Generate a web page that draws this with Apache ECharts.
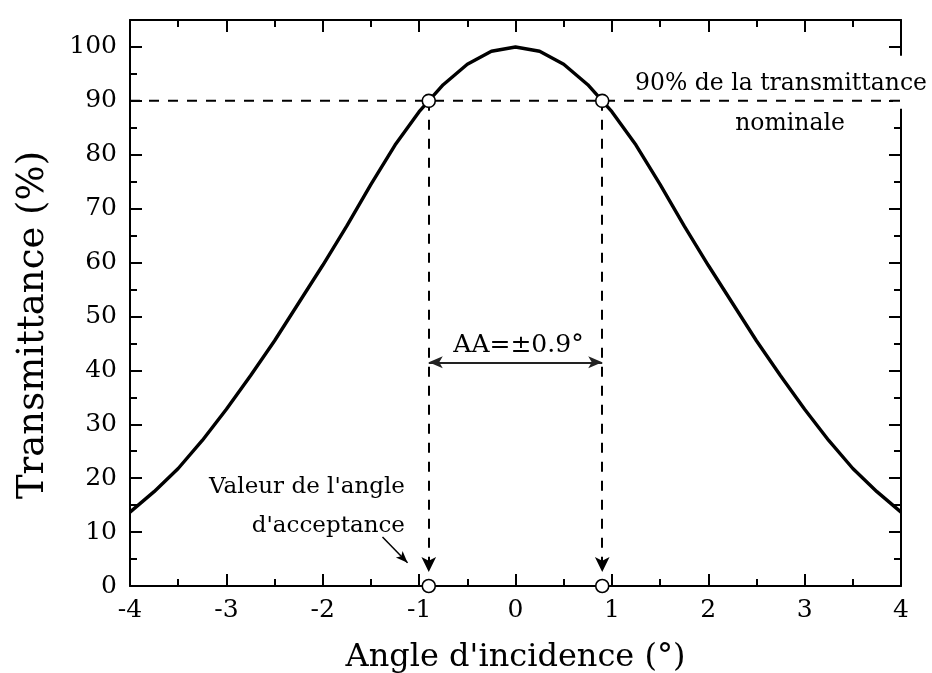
<!DOCTYPE html>
<html>
<head>
<meta charset="utf-8">
<script src="https://cdn.jsdelivr.net/npm/echarts@6/dist/echarts.min.js"></script>
<style>
html,body{margin:0;padding:0;background:#fff;}
#chart{width:932px;height:673px;}
</style>
</head>
<body>
<div id="chart"></div>
<script>
// ---- data ----
var angles = [-4, -3.75, -3.5, -3.25, -3, -2.75, -2.5, -2.25, -2, -1.75, -1.5, -1.25, -1, -0.75, -0.5, -0.25, 0,
              0.25, 0.5, 0.75, 1, 1.25, 1.5, 1.75, 2, 2.25, 2.5, 2.75, 3, 3.25, 3.5, 3.75, 4];
var transmittance = [13.7, 17.5, 21.8, 27.0, 32.8, 39.0, 45.5, 52.5, 59.5, 66.8, 74.5, 81.8, 88.0, 93.0, 96.8, 99.2, 100,
                     99.2, 96.8, 93.0, 88.0, 81.8, 74.5, 66.8, 59.5, 52.5, 45.5, 39.0, 32.8, 27.0, 21.8, 17.5, 13.7];
var thresholdLevel = 90;            // 90% of nominal transmittance
var acceptanceAngles = [-0.9, 0.9]; // AA = ±0.9°
var arrowTipLevel = 2.6;            // where the vertical arrows stop
var spanArrowLevel = 41.5;          // level of the double arrow
var noteArrow = [[-1.38, 9.1], [-1.12, 4.3]];
var xTicks = [-4, -3, -2, -1, 0, 1, 2, 3, 4];
var yTicks = [0, 10, 20, 30, 40, 50, 60, 70, 80, 90, 100];
var texts = {
  xTitle: "Angle d'incidence (°)",
  yTitle: "Transmittance (%)",
  threshold1: "90% de la transmittance",
  threshold2: "nominale",
  aa: "AA=±0.9°",
  note1: "Valeur de l'angle",
  note2: "d'acceptance"
};

var FONT = 'DejaVu Serif';
var chart = echarts.init(document.getElementById('chart'), null, {renderer: 'canvas'});

var curve = angles.map(function (a, i) { return [a, transmittance[i]]; });
var circles = [];
acceptanceAngles.forEach(function (a) { circles.push([a, 0]); circles.push([a, thresholdLevel]); });

function majorX(pos, labels) {
  return {
    type: 'value', position: pos, min: xTicks[0], max: xTicks[xTicks.length - 1], interval: 1,
    axisLine: {show: true, onZero: false, lineStyle: {color: '#000', width: 2}},
    axisTick: {show: true, inside: true, length: 12, lineStyle: {color: '#000', width: 2}},
    minorTick: {show: true, splitNumber: 2, length: 7, lineStyle: {color: '#000', width: 2}},
    splitLine: {show: false}, minorSplitLine: {show: false},
    axisLabel: {show: labels, color: '#000', fontFamily: FONT, fontSize: 25, margin: 12},
    name: labels ? texts.xTitle : '', nameLocation: 'middle', nameGap: 56,
    nameTextStyle: {color: '#000', fontFamily: FONT, fontSize: 32}
  };
}
function yAx(pos, interval, len, showLine, labels) {
  return {
    type: 'value', position: pos, min: 0, max: 105, interval: interval,
    axisLine: {show: showLine, onZero: false, lineStyle: {color: '#000', width: 2}},
    axisTick: {show: true, inside: true, length: len, lineStyle: {color: '#000', width: 2}},
    splitLine: {show: false},
    axisLabel: {show: labels, color: '#000', fontFamily: FONT, fontSize: 25, margin: 13, showMaxLabel: false,
      formatter: function (v) { return yTicks.indexOf(v) >= 0 ? String(v) : ''; }}
  };
}

var dashStyle = {color: '#000', width: 2, type: [10, 9]};

chart.setOption({
  animation: false,
  backgroundColor: '#fff',
  grid: {left: 130, right: 31, top: 20, bottom: 87, containLabel: false, outerBoundsMode: 'none'},
  xAxis: [majorX('bottom', true), majorX('top', false)],
  yAxis: [yAx('left', 10, 12, true, true), yAx('left', 5, 7, false, false),
          yAx('right', 10, 12, true, false), yAx('right', 5, 7, false, false)],
  series: [
    {
      type: 'line', data: curve, xAxisIndex: 0, yAxisIndex: 0, symbol: 'none', z: 5,
      lineStyle: {color: '#000', width: 3.4}
    },
    {
      type: 'line', xAxisIndex: 0, yAxisIndex: 0, symbol: 'none', z: 4,
      data: [[xTicks[0], thresholdLevel], [xTicks[xTicks.length - 1], thresholdLevel]],
      lineStyle: dashStyle,
      markLine: {
        silent: true, symbol: ['none', 'arrow'], symbolSize: [11, 15],
        label: {show: false},
        lineStyle: dashStyle,
        data: acceptanceAngles.map(function (a) {
          return [{coord: [a, thresholdLevel]}, {coord: [a, arrowTipLevel]}];
        })
      }
    },
    {
      type: 'line', xAxisIndex: 0, yAxisIndex: 0, symbol: 'none', data: [], z: 4,
      markLine: {
        silent: true, symbol: ['arrow', 'arrow'], symbolSize: [9, 14],
        label: {show: false},
        lineStyle: {color: '#222', width: 2, type: 'solid'},
        data: [[{coord: [acceptanceAngles[0], spanArrowLevel]}, {coord: [acceptanceAngles[1], spanArrowLevel]}]]
      }
    },
    {
      type: 'line', xAxisIndex: 0, yAxisIndex: 0, symbol: 'none', data: [], z: 4,
      markLine: {
        silent: true, symbol: ['none', 'arrow'], symbolSize: [7, 12],
        label: {show: false},
        lineStyle: {color: '#000', width: 1.5, type: 'solid'},
        data: [[{coord: noteArrow[0]}, {coord: noteArrow[1]}]]
      }
    },
    {
      type: 'scatter', data: circles, xAxisIndex: 0, yAxisIndex: 0, symbol: 'circle', symbolSize: 13,
      clip: false, z: 10,
      itemStyle: {color: '#fff', borderColor: '#000', borderWidth: 1.6, opacity: 1}
    }
  ]
});

function px(pt) { return chart.convertToPixel({xAxisIndex: 0, yAxisIndex: 0}, pt); }
var pAA = px([0, 45]);
var pNote = px([-0.95, 0]);
var pThr = px([xTicks[xTicks.length - 1], thresholdLevel]);
var pMid = px([0, 52.5]);
var tStyle = {fill: '#000', fontFamily: FONT};

chart.setOption({
  graphic: [
    {type: 'rect', z: 1, shape: {x: pThr[0] - 8, y: pThr[1] - 45, width: 18, height: 53}, style: {fill: '#fff'}},
    {type: 'text', z: 1, x: pThr[0] - 120, y: pThr[1] - 17,
      style: Object.assign({text: texts.threshold1, fontSize: 23.5, align: 'center', verticalAlign: 'middle'}, tStyle)},
    {type: 'text', z: 1, x: pThr[0] - 111, y: pThr[1] + 23,
      style: Object.assign({text: texts.threshold2, fontSize: 23.5, align: 'center', verticalAlign: 'middle'}, tStyle)},
    {type: 'text', z: 6, x: pAA[0] + 3, y: pAA[1] + 2,
      style: Object.assign({text: texts.aa, fontSize: 25, align: 'center', verticalAlign: 'middle'}, tStyle)},
    {type: 'text', z: 6, x: pNote[0] - 19, y: pNote[1] - 99,
      style: Object.assign({text: texts.note1, fontSize: 23, align: 'right', verticalAlign: 'middle'}, tStyle)},
    {type: 'text', z: 6, x: pNote[0] - 19, y: pNote[1] - 60,
      style: Object.assign({text: texts.note2, fontSize: 23, align: 'right', verticalAlign: 'middle'}, tStyle)},
    {type: 'text', z: 6, x: 33, y: pMid[1] + 22, rotation: Math.PI / 2,
      style: Object.assign({text: texts.yTitle, fontSize: 37, align: 'center', verticalAlign: 'middle'}, tStyle)}
  ]
});
</script>
</body>
</html>
